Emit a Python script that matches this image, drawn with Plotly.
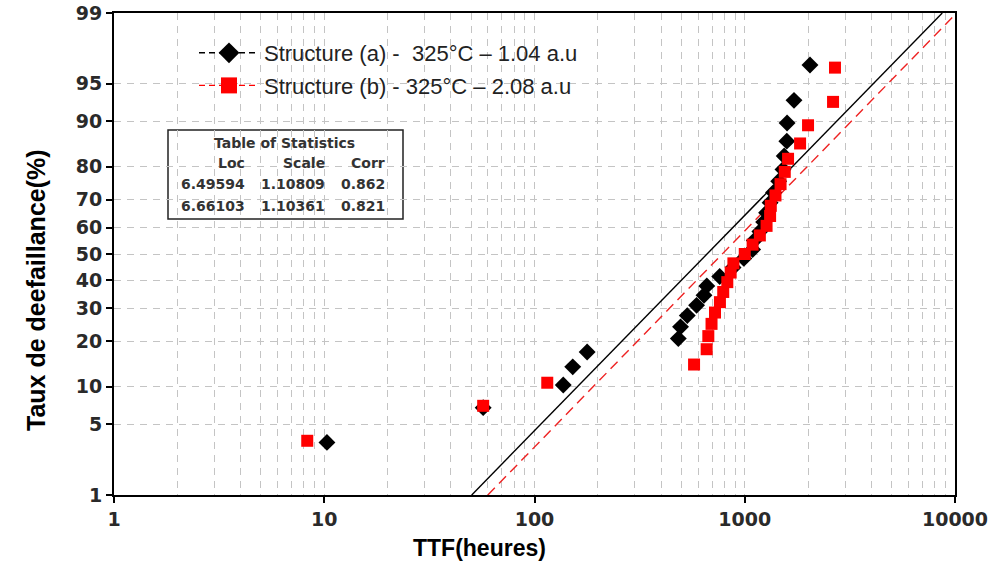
import plotly.graph_objects as go
from statistics import NormalDist

# ---------------- data ----------------
ttf_a = [10.3, 57, 137, 152, 178, 483, 495, 533, 590, 640, 660, 760, 880, 990,
         1090, 1110, 1180, 1230, 1270, 1320, 1370, 1450, 1520, 1540, 1585, 1590,
         1715, 2043]
pct_a = [3.45, 6.9, 10.3, 13.8, 17.2, 20.7, 24.1, 27.6, 31.0, 34.5, 37.9, 41.4,
         44.8, 48.3, 51.7, 55.2, 58.6, 62.1, 65.5, 69.0, 72.4, 75.9, 79.3, 82.8,
         86.2, 89.7, 93.1, 96.6]

ttf_b = [8.3, 57, 115, 574, 659, 671, 695, 722, 762, 790, 826, 857, 883, 1000,
         1090, 1180, 1270, 1320, 1330, 1400, 1480, 1550, 1607, 1833, 2000,
         2630, 2686]
pct_b = [3.57, 7.14, 10.7, 14.3, 17.9, 21.4, 25.0, 28.6, 32.1, 35.7, 39.3, 42.9,
         46.4, 50.0, 53.6, 57.1, 60.7, 64.3, 67.9, 71.4, 75.0, 78.6, 82.1, 85.7,
         89.3, 92.9, 96.4]

fit_a_ttf = [50.3, 8700]
fit_b_ttf = [60, 10180]
fit_pct = [1, 99]

y_ticks = [1, 5, 10, 20, 30, 40, 50, 60, 70, 80, 90, 95, 99]
x_ticks = [1, 10, 100, 1000, 10000]
x_minor = [m * d for d in (1, 10, 100, 1000) for m in range(2, 10)]

legend_a = "Structure (a) -  325°C – 1.04 a.u"
legend_b = "Structure (b) - 325°C – 2.08 a.u"
stats_title = "Table of Statistics"
stats_header = ["Loc", "Scale", "Corr"]
stats_rows = [["6.49594", "1.10809", "0.862"],
              ["6.66103", "1.10361", "0.821"]]

# -------------- helpers ---------------
nd = NormalDist()
def prob(p_list):
    return [nd.inv_cdf(p / 100.0) for p in p_list]

W, H = 992, 561
# plot area in window pixels: x 114..955, y 13..495
PL, PR, PT, PB = 114, 955, 13, 495
L, R, T, B = PL, W - PR, PT, H - PB
pw, ph = PR - PL, PB - PT
def px(x):
    return (x - PL) / pw
def py(y):
    return (PB - y) / ph

fig = go.Figure()

# fit lines
fig.add_trace(go.Scatter(x=fit_a_ttf, y=prob(fit_pct), mode="lines",
                         line=dict(color="black", width=1.4), showlegend=False,
                         hoverinfo="skip"))
fig.add_trace(go.Scatter(x=fit_b_ttf, y=prob(fit_pct), mode="lines",
                         line=dict(color="#ee2222", width=1.4, dash="10px,6px"),
                         showlegend=False, hoverinfo="skip"))

# data points
fig.add_trace(go.Scatter(x=ttf_a, y=prob(pct_a), mode="markers",
                         marker=dict(symbol="diamond", size=13, color="black"),
                         showlegend=False))
fig.add_trace(go.Scatter(x=ttf_b, y=prob(pct_b), mode="markers",
                         marker=dict(symbol="square", size=12, color="#ff0000"),
                         showlegend=False))

# legend entries
fig.add_trace(go.Scatter(x=[None], y=[None], mode="lines+markers", name=legend_a,
                         legendgroup="a",
                         line=dict(color="black", width=1.4, dash="6px,4px"),
                         marker=dict(symbol="diamond", size=20, color="black")))
fig.add_trace(go.Scatter(x=[None], y=[None], mode="lines+markers", name=legend_b,
                         legendgroup="b",
                         line=dict(color="#ff0000", width=1.4, dash="6px,4px"),
                         marker=dict(symbol="square", size=18, color="#ff0000")))

grid_color = "#c4c4c4"
tickfont = dict(family="DejaVu Sans", size=19, color="#2a2a2a", weight="bold")

fig.update_xaxes(type="log", range=[0, 4], tickvals=x_ticks,
                 ticktext=[str(v) for v in x_ticks], automargin=False,
                 ticklabeloverflow="allow",
                 showline=True, linecolor="black", linewidth=2, mirror=True,
                 ticks="outside", ticklen=6, tickwidth=2, tickcolor="black",
                 showgrid=True, gridcolor=grid_color, griddash="7px,6px", gridwidth=1,
                 minor=dict(tickvals=x_minor, showgrid=True, gridcolor=grid_color,
                            griddash="7px,6px", gridwidth=1, ticks=""),
                 tickfont=tickfont, zeroline=False)
fig.update_yaxes(range=[nd.inv_cdf(0.01), nd.inv_cdf(0.99)], tickvals=prob(y_ticks),
                 ticktext=[str(v) for v in y_ticks], automargin=False,
                 ticklabeloverflow="allow",
                 showline=True, linecolor="black", linewidth=2, mirror=True,
                 ticks="outside", ticklen=6, tickwidth=2, tickcolor="black",
                 showgrid=True, gridcolor=grid_color, griddash="7px,6px", gridwidth=1,
                 tickfont=tickfont, zeroline=False)

shapes = [
    # white area behind legend
    dict(type="rect", xref="paper", yref="paper", x0=px(165), x1=px(612),
         y0=py(112), y1=py(33), fillcolor="white", line=dict(width=0), layer="between"),
    # statistics table box
    dict(type="rect", xref="paper", yref="paper", x0=px(168), x1=px(403),
         y0=py(219), y1=py(130), fillcolor="white",
         line=dict(color="#222", width=1.5), layer="between"),
]

tfont = dict(family="DejaVu Sans", size=14, color="#333333", weight="bold")
ann = [
    dict(text=stats_title, x=px(284), y=py(143), xref="paper", yref="paper",
         showarrow=False, xanchor="center", yanchor="middle", font=tfont),
]
col_right = [247, 327, 387]
for h, xr in zip(stats_header, col_right):
    ann.append(dict(text=h, x=px(xr), y=py(163), xref="paper", yref="paper",
                    showarrow=False, xanchor="right", yanchor="middle", font=tfont))
for row, yy in zip(stats_rows, [184, 206]):
    for v, xr in zip(row, col_right):
        ann.append(dict(text=v, x=px(xr), y=py(yy), xref="paper", yref="paper",
                        showarrow=False, xanchor="right", yanchor="middle", font=tfont))

ann.append(dict(text="TTF(heures)", x=px(479), y=py(548), xref="paper", yref="paper",
                showarrow=False, xanchor="center", yanchor="middle",
                font=dict(family="Liberation Sans", size=23, color="black", weight="bold")))
ann.append(dict(text="Taux de deefaillance(%)", x=px(36), y=py(290), xref="paper",
                yref="paper", showarrow=False, xanchor="center", yanchor="middle",
                textangle=-90,
                font=dict(family="Liberation Sans", size=25, color="black", weight="bold")))

fig.update_layout(
    width=W, height=H, margin=dict(l=L, r=R, t=T, b=B, autoexpand=False),
    plot_bgcolor="white", paper_bgcolor="white",
    shapes=shapes, annotations=ann,
    legend=dict(x=px(194), y=py(32), xanchor="left", yanchor="top",
                bgcolor="rgba(0,0,0,0)", borderwidth=0, traceorder="grouped",
                font=dict(family="Liberation Sans", size=22, color="#222"),
                tracegroupgap=1, itemwidth=60),
)

fig.write_html("out.html", config={"displayModeBar": False},
               post_script="document.body.style.margin='0px';"
                           "document.body.style.overflow='hidden';")
